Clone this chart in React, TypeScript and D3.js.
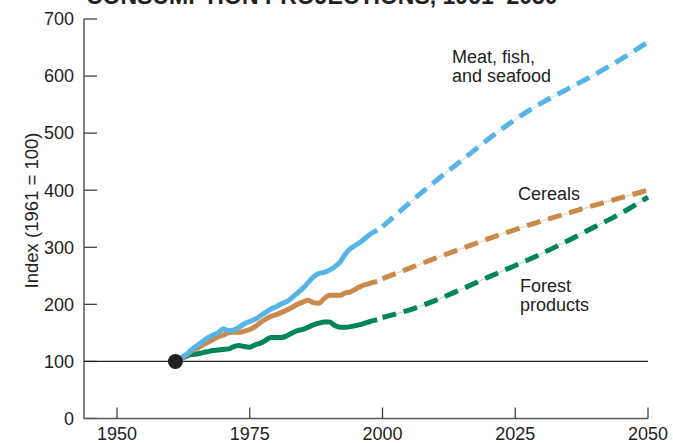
import React from "react";
import * as d3 from "d3";

const histYears = d3.range(1961, 2000);
const meatHist = [100,106,112,120,127,134,141,146,150,157,154,155,160,166,170,174,180,186,192,196,201,205,212,220,228,238,248,254,256,260,266,274,288,298,304,310,318,325,330];
const cerealHist = [100,105,111,118,122,128,133,138,143,146,150,151,151,153,156,161,168,174,179,182,186,190,195,200,204,207,203,202,210,216,216,216,220,222,227,232,235,238,240];
const forestHist = [100,105,109,112,113,115,117,119,120,121,122,126,128,126,125,129,132,137,142,142,142,145,150,154,156,160,164,167,169,169,163,160,160,161,163,165,168,171,173];

const projYears = [2000,2005,2010,2015,2020,2025,2030,2035,2040,2045,2050];
const meatProj = [336,377,416,453,490,524,553,578,603,630,660];
const cerealProj = [245,263,281,298,315,331,346,360,374,387,400];
const forestProj = [177,190,207,227,248,268,289,312,336,360,388];

const xTicks = [1950,1975,2000,2025,2050];
const yTicks = [0,100,200,300,400,500,600,700];
const title = "CONSUMPTION PROJECTIONS, 1961–2050";
const yLabel = "Index (1961 = 100)";

const FONT = "'Liberation Sans', Arial, Helvetica, sans-serif";

export default function App() {
  const x = d3.scaleLinear().domain([1950, 2050]).range([117, 648]);
  const y = d3.scaleLinear().domain([0, 700]).range([418.5, 19]);
  const axisLeft = 84;

  const hist = (vals: number[]) =>
    d3.line<number>().x((_, i) => x(histYears[i])).y(v => y(v)).curve(d3.curveMonotoneX)(vals) || "";
  const proj = (vals: number[]) =>
    d3.line<number>().x((_, i) => x(projYears[i])).y(v => y(v)).curve(d3.curveMonotoneX)(vals) || "";

  const series = [
    { h: forestHist, p: forestProj, c: "#00845a", light: "#b9ddc9" },
    { h: cerealHist, p: cerealProj, c: "#c98a4b", light: "#ecd6c0" },
    { h: meatHist, p: meatProj, c: "#56b4e6", light: "#cfe9f7" },
  ];

  return (
    <svg width={673} height={443} style={{ position: "absolute", left: 0, top: 0, background: "#fff" }} fontFamily={FONT}>
      <text x={86} y={4} fontSize={23} fontWeight="bold" fill="#222">{title}</text>

      {/* y axis */}
      <line x1={axisLeft} x2={axisLeft} y1={y(700)} y2={y(0)} stroke="#555" strokeWidth={1.5} />
      {yTicks.map(t => (
        <g key={t}>
          <line x1={axisLeft} x2={axisLeft + 13} y1={y(t)} y2={y(t)} stroke="#444" strokeWidth={1.3} />
          <text x={74} y={y(t)} dy="0.35em" textAnchor="end" fontSize={18} fill="#222">{t}</text>
        </g>
      ))}
      {/* x axis */}
      <line x1={axisLeft} x2={x(2050)} y1={y(0)} y2={y(0)} stroke="#555" strokeWidth={1.5} />
      {xTicks.map(t => (
        <g key={t}>
          <line x1={x(t)} x2={x(t)} y1={y(0)} y2={y(0) - 11} stroke="#444" strokeWidth={1.3} />
          <text x={x(t)} y={440} textAnchor="middle" fontSize={18} fill="#222">{t}</text>
        </g>
      ))}
      <text transform={`translate(38,${(128 + 293) / 2}) rotate(-90)`} textAnchor="middle" fontSize={18.5} fill="#222">{yLabel}</text>

      {/* 100 baseline */}
      <line x1={axisLeft} x2={x(2050)} y1={y(100)} y2={y(100)} stroke="#222" strokeWidth={1.2} />

      {series.map((s, i) => (
        <g key={i}>
          <path d={proj(s.p)} fill="none" stroke={s.light} strokeWidth={1.2} />
          <path d={proj(s.p)} fill="none" stroke={s.c} strokeWidth={5} strokeDasharray="14 8" />
          <path d={hist(s.h)} fill="none" stroke={s.c} strokeWidth={5} strokeLinejoin="round" />
        </g>
      ))}

      <circle cx={x(1961)} cy={y(100)} r={7.5} fill="#231f20" />

      <text fontSize={18} fill="#222">
        <tspan x={452} y={63}>Meat, fish,</tspan>
        <tspan x={452} y={82}>and seafood</tspan>
      </text>
      <text x={518} y={200} fontSize={18} fill="#222">Cereals</text>
      <text fontSize={18} fill="#222">
        <tspan x={520} y={292}>Forest</tspan>
        <tspan x={520} y={311}>products</tspan>
      </text>
    </svg>
  );
}
